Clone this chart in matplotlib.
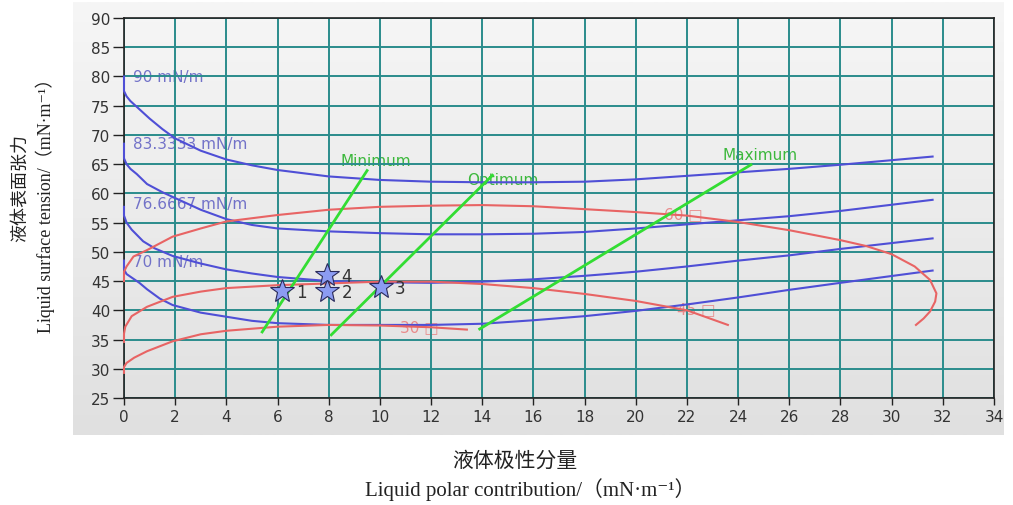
import numpy as np
import matplotlib
matplotlib.use("Agg")
import matplotlib.pyplot as plt
from matplotlib.colors import LinearSegmentedColormap

# surface tension isolines (blue)
b90_x = [0, 0, 0.1, 0.25, 0.5, 1, 1.5, 2, 3, 4, 5, 6, 8, 10, 12, 14, 16, 18, 20, 22, 24, 26, 28, 31.6]
b90_y = [80, 77.5, 76.6, 75.8, 74.8, 72.8, 71, 69.4, 67.3, 65.8, 64.8, 64.0, 62.9, 62.3, 62.0, 61.9, 61.9, 62.0, 62.4, 63.0, 63.6, 64.2, 64.9, 66.3]
b83_x = [0, 0, 0.1, 0.25, 0.5, 0.9, 1.5, 2, 3, 4, 5, 6, 8, 10, 12, 14, 16, 18, 20, 22, 24, 26, 28, 31.6]
b83_y = [68.5, 66, 65, 64.2, 63.3, 61.6, 60.2, 59.2, 57.2, 55.6, 54.6, 54.0, 53.5, 53.2, 53.0, 53.0, 53.1, 53.4, 54.0, 54.7, 55.4, 56.1, 57.0, 58.9]
b76_x = [0, 0, 0.1, 0.3, 0.75, 1.2, 1.9, 3, 4, 5, 6, 8, 10, 12, 14, 16, 18, 20, 22, 24, 26, 28, 31.6]
b76_y = [57.7, 56.2, 55, 53.8, 51.8, 50.6, 49.3, 48.0, 47.0, 46.3, 45.7, 45.0, 44.8, 44.7, 44.9, 45.3, 45.9, 46.6, 47.5, 48.5, 49.4, 50.5, 52.3]
b70_x = [0, 0, 0.1, 0.3, 0.6, 0.9, 1.4, 1.9, 3, 4, 5, 6, 8, 10, 12, 14, 16, 18, 20, 22, 24, 26, 28, 31.6]
b70_y = [48.5, 47.0, 46.2, 45.6, 44.7, 43.6, 42.0, 40.9, 39.6, 38.9, 38.2, 37.8, 37.5, 37.5, 37.5, 37.7, 38.3, 39.0, 39.9, 41.0, 42.2, 43.5, 44.7, 46.8]
blue_labels = ["90 mN/m", "83.3333 mN/m", "76.6667 mN/m", "70 mN/m"]
blue_label_y = [80, 68.5, 58.2, 48.3]

# contact angle isolines (red)
r60_x = [0, 0, 0.1, 0.37, 0.9, 1.9, 3, 4, 6, 8, 10, 12, 14, 16, 18, 20, 22, 24, 26, 28, 29, 30, 30.9, 31.5, 31.75, 31.7, 31.5, 31.25, 30.95]
r60_y = [45.0, 46.6, 47.5, 49.2, 50.3, 52.6, 54.0, 55.2, 56.3, 57.2, 57.7, 57.9, 58.0, 57.8, 57.3, 56.8, 56.2, 55.1, 53.7, 52.0, 51.0, 49.6, 47.5, 45.2, 42.9, 41.5, 39.8, 38.6, 37.5]
r45_x = [0, 0, 0.05, 0.3, 0.9, 1.9, 3, 4, 6, 8, 10, 12, 14, 16, 18, 20, 22, 23.6]
r45_y = [34.6, 36.0, 37.2, 39.0, 40.6, 42.3, 43.2, 43.8, 44.3, 44.6, 44.9, 44.9, 44.5, 43.8, 42.8, 41.6, 40.0, 37.5]
r30_x = [0, 0, 0.1, 0.4, 0.9, 1.9, 3, 4, 6, 8, 10, 12, 13.4]
r30_y = [29.3, 30.3, 31.0, 31.9, 33.0, 34.7, 35.9, 36.5, 37.2, 37.5, 37.4, 37.1, 36.7]
red_labels = ["60 □", "45 □", "30 □"]
red_label_xy = [(21.1, 56.6), (21.6, 40.3), (10.8, 37.2)]

# green guide lines
g_names = ["Minimum", "Optimum", "Maximum"]
g_x = [[5.4, 9.5], [8.1, 14.4], [13.9, 24.5]]
g_y = [[36.3, 63.9], [35.8, 63.1], [36.8, 64.9]]
g_label_xy = [(8.45, 65.6), (13.4, 62.3), (23.4, 66.6)]

# liquids
pt_x = [6.17, 7.95, 10.04, 7.95]
pt_y = [43.3, 43.3, 44.0, 46.05]
pt_lab = ["1", "2", "3", "4"]

W, H = 1013, 506
fig = plt.figure(figsize=(W / 100, H / 100), dpi=100)

# gray panel
bg = fig.add_axes([73 / W, 1 - 436 / H, (1003 - 73) / W, (436 - 3) / H])
grad = np.linspace(0, 1, 256).reshape(-1, 1)
cm = LinearSegmentedColormap.from_list("g", ["#f6f6f6", "#e0e0e0"])
bg.imshow(grad, aspect="auto", cmap=cm, extent=[0, 1, 0, 1], origin="upper")
bg.axis("off")

ax = fig.add_axes([124 / W, 1 - 399 / H, (994 - 124) / W, (399 - 19) / H])
ax.set_facecolor("none")
ax.set_xlim(0, 34)
ax.set_ylim(25, 90)
ax.set_xticks(np.arange(0, 35, 2))
ax.set_yticks(np.arange(25, 91, 5))
ax.grid(True, color="#2a8c8c", lw=1.4)
ax.set_axisbelow("line")
for s in ax.spines.values():
    s.set_color("#222222")
    s.set_linewidth(1.2)
ax.tick_params(axis="y", length=8, width=1, color="#222222", labelsize=11, labelcolor="#333333", pad=2)
ax.tick_params(axis="x", length=5, width=1, color="#222222", labelsize=11, labelcolor="#333333", pad=3)

blue = "#4f4fd6"
for xs, ys in [(b90_x, b90_y), (b83_x, b83_y), (b76_x, b76_y), (b70_x, b70_y)]:
    ax.plot(xs, ys, color=blue, lw=1.5, zorder=2.6, clip_on=False)
for lab, y in zip(blue_labels, blue_label_y):
    ax.text(0.35, y, lab, color="#7272c8", fontsize=11, va="center", ha="left", zorder=1)

red = "#e86464"
for xs, ys in [(r60_x, r60_y), (r45_x, r45_y), (r30_x, r30_y)]:
    ax.plot(xs, ys, color=red, lw=1.5, zorder=2.6, clip_on=False)
for lab, (x, y) in zip(red_labels, red_label_xy):
    ax.text(x, y, lab, color="#e88a8a", fontsize=11, va="center", ha="left", zorder=1)

for name, xs, ys, (lx, ly) in zip(g_names, g_x, g_y, g_label_xy):
    ax.plot(xs, ys, color="#33dd33", lw=2, zorder=2.7)
    ax.text(lx, ly, name, color="#3cb83c", fontsize=11, va="center", ha="left", zorder=1)

ax.plot(pt_x, pt_y, ls="none", marker="*", ms=18, mfc="#8c9cf2", mec="#2a2a5a", mew=0.8, zorder=4)
for x, y, t in zip(pt_x, pt_y, pt_lab):
    ax.annotate(t, (x, y), xytext=(10, -1), textcoords="offset points", fontsize=12,
                color="#333333", va="center", ha="left", zorder=4)

serif = ["Liberation Serif", "Noto Sans CJK SC", "DejaVu Serif"]
fig.text(515 / W, 1 - 462 / H, "液体极性分量", family=serif, fontsize=15, ha="center", va="center", color="#222222")
fig.text(530 / W, 1 - 490 / H, "Liquid polar contribution/（mN·m⁻¹）", family=serif, fontsize=15,
         ha="center", va="center", color="#222222")
fig.text(20 / W, 1 - 188 / H, "液体表面张力", family=serif, fontsize=13, rotation=90,
         ha="center", va="center", color="#222222")
fig.text(45 / W, 1 - 201 / H, "Liquid surface tension/（mN·m⁻¹）", family=serif, fontsize=13, rotation=90,
         ha="center", va="center", color="#222222")

fig.savefig("out.png", dpi=100)
